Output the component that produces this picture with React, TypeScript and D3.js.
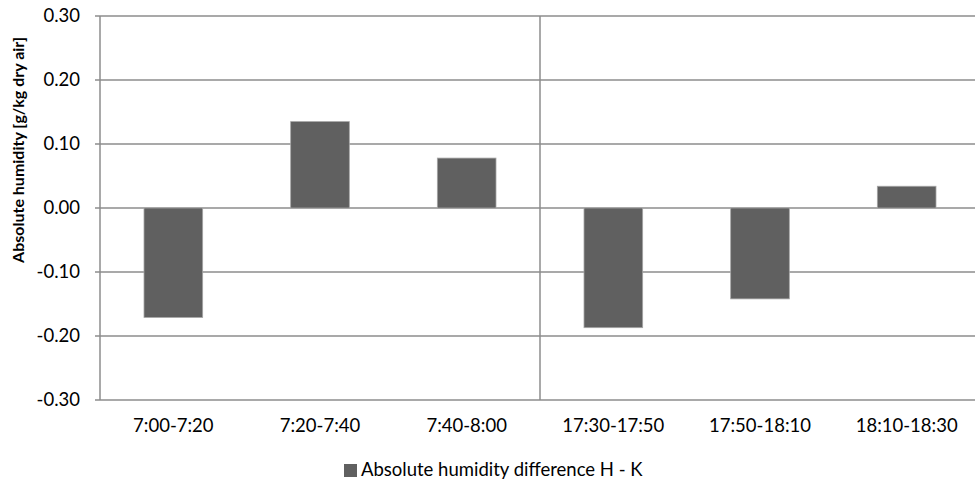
import React from "react";
import * as d3 from "d3";

const categories = ["7:00-7:20", "7:20-7:40", "7:40-8:00", "17:30-17:50", "17:50-18:10", "18:10-18:30"];
const humidityDiff = [-0.171, 0.135, 0.078, -0.187, -0.142, 0.034];
const yTicks = [0.3, 0.2, 0.1, 0, -0.1, -0.2, -0.3];
const seriesName = "Absolute humidity difference H - K";
const yTitle = "Absolute humidity [g/kg dry air]";

const W = 975;
const H = 484;
const margin = { left: 100, right: -5, top: 16, bottom: 84 };
const FONT = "Lato, 'Open Sans', sans-serif";
const FS = 18.5;
const GRID = "#8c8c8c";
const BAR = "#606060";

export default function App() {
  const x = d3
    .scaleBand<string>()
    .domain(categories)
    .range([margin.left, W - margin.right])
    .paddingInner(0.6)
    .paddingOuter(0.3);
  const band = d3.scaleBand<string>().domain(categories).range([margin.left, W - margin.right]);
  const y = d3.scaleLinear().domain([-0.3, 0.3]).range([H - margin.bottom, margin.top]);
  const fmt = (t: number) => d3.format(".2f")(t === 0 ? 0 : t).replace("\u2212", "-");
  const sep = band(categories[3])!;

  return (
    <div style={{ position: "fixed", left: 0, top: 0 }}>
      <svg width={W} height={H} style={{ display: "block", background: "#fff" }}>
        {/* horizontal gridlines and tick marks */}
        {yTicks.map((t) => (
          <g key={t}>
            <line x1={margin.left - 5} x2={W} y1={y(t)} y2={y(t)} stroke={GRID} strokeWidth={1.5} />
            <text x={80} y={y(t)} dy="0.35em" textAnchor="end" fontFamily={FONT} fontSize={FS} fill="#000">
              {fmt(t)}
            </text>
          </g>
        ))}
        {/* y axis line */}
        <line x1={margin.left} x2={margin.left} y1={y(0.3)} y2={y(-0.3)} stroke={GRID} strokeWidth={1.5} />
        {/* morning / evening separator */}
        <line x1={sep} x2={sep} y1={y(0.3)} y2={y(-0.3)} stroke={GRID} strokeWidth={1.5} />
        {/* bars */}
        {humidityDiff.map((v, i) => {
          const c = categories[i];
          const y0 = y(Math.max(0, v));
          const y1 = y(Math.min(0, v));
          return (
            <rect
              key={c}
              x={x(c)!}
              y={y0}
              width={x.bandwidth()}
              height={y1 - y0}
              fill={BAR}
              stroke="#a6a6a6"
              strokeWidth={0.8}
            />
          );
        })}
        {/* category labels */}
        {categories.map((c) => (
          <text
            key={c}
            x={band(c)! + band.bandwidth() / 2}
            y={432}
            textAnchor="middle"
            fontFamily={FONT}
            fontSize={FS}
            fill="#000"
          >
            {c}
          </text>
        ))}
        {/* y axis title */}
        <text
          transform="translate(24, 150) rotate(-90)"
          textAnchor="middle"
          fontFamily={FONT}
          fontWeight="bold"
          fontSize={16}
          fill="#000"
        >
          {yTitle}
        </text>
        {/* legend */}
        <rect x={344} y={464} width={13} height={13} fill={BAR} />
        <text x={361} y={476} fontFamily={FONT} fontSize={FS} fill="#000">
          {seriesName}
        </text>
      </svg>
    </div>
  );
}
